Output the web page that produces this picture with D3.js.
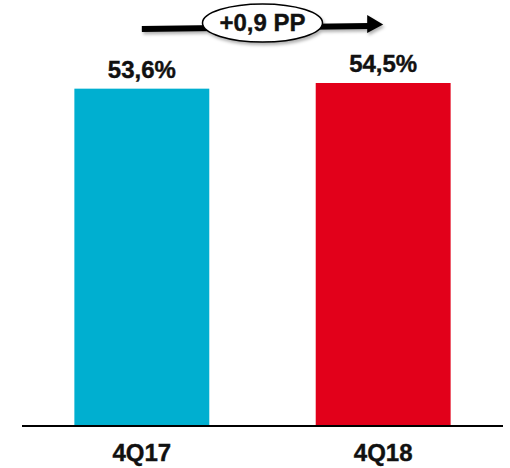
<!DOCTYPE html>
<html><head><meta charset="utf-8">
<script src="https://cdn.jsdelivr.net/npm/d3@7"></script>
<style>body{margin:0;background:#fff;}svg{display:block;}</style>
</head><body>
<script>
const categories = ["4Q17", "4Q18"];
const values = [53.6, 54.5];
const valueLabels = ["53,6%", "54,5%"];
const colors = ["#00AFD0", "#E2001A"];
const deltaLabel = "+0,9 PP";

const W = 510, H = 468;
const svg = d3.select("body").append("svg").attr("width", W).attr("height", H);
const font = "'Liberation Sans', Arial, sans-serif";

const x = d3.scaleBand().domain(categories).range([22, 503]).paddingInner(0.441).paddingOuter(0.217);
const y = d3.scaleLinear().domain([0, 54.5]).range([426, 83]);

const defs = svg.append("defs");
const f = defs.append("filter").attr("id", "sh").attr("x", "-20%").attr("y", "-50%").attr("width", "140%").attr("height", "200%");
f.append("feDropShadow").attr("dx", 1.5).attr("dy", 2.5).attr("stdDeviation", 1.5).attr("flood-color", "#000").attr("flood-opacity", 0.3);

svg.selectAll("rect.bar").data(values).enter().append("rect")
  .attr("class", "bar")
  .attr("x", (d, i) => x(categories[i]))
  .attr("width", x.bandwidth())
  .attr("y", d => y(d))
  .attr("height", d => y(0) - y(d))
  .attr("fill", (d, i) => colors[i]);

svg.selectAll("text.val").data(values).enter().append("text")
  .attr("class", "val")
  .attr("x", (d, i) => x(categories[i]) + x.bandwidth() / 2)
  .attr("y", d => y(d) - 11)
  .attr("text-anchor", "middle")
  .attr("font-family", font).attr("font-weight", "bold").attr("font-size", 24)
  .attr("fill", "#111").attr("stroke", "#111").attr("stroke-width", 0.4)
  .text((d, i) => valueLabels[i]);

// axis
const axis = svg.append("g").attr("transform", `translate(0,${y(0)})`)
  .call(d3.axisBottom(x).tickSize(0).tickPadding(18));
axis.select(".domain").attr("d", `M22,0H503`).attr("stroke", "#000").attr("stroke-width", 2);
axis.selectAll(".tick text").attr("font-family", font).attr("font-weight", "bold")
  .attr("font-size", 24).attr("fill", "#111").attr("stroke", "#111").attr("stroke-width", 0.4)
  .attr("dy", "0.71em");

// arrow annotation
const g = svg.append("g").attr("filter", "url(#sh)");
const cx = (x(categories[0]) + x(categories[1]) + x.bandwidth()) / 2;
const x0 = x(categories[0]) + x.bandwidth() / 2, x1 = x(categories[1]) + x.bandwidth() / 2;
g.append("path")
  .attr("d", `M${x0},29 L${x1 - 14},26`)
  .attr("stroke", "#000").attr("stroke-width", 6).attr("fill", "none");
g.append("path")
  .attr("d", `M${x1 - 16},15 L${x1},24.5 L${x1 - 16},33 Z`)
  .attr("fill", "#000");
g.append("ellipse").attr("cx", cx).attr("cy", 23).attr("rx", 60).attr("ry", 19)
  .attr("fill", "#fff").attr("stroke", "#000").attr("stroke-width", 1.5);
svg.append("text").attr("x", cx).attr("y", 31).attr("text-anchor", "middle")
  .attr("font-family", font).attr("font-weight", "bold").attr("font-size", 24).attr("fill", "#111")
  .attr("stroke", "#111").attr("stroke-width", 0.4)
  .text(deltaLabel);
</script>
</body></html>
